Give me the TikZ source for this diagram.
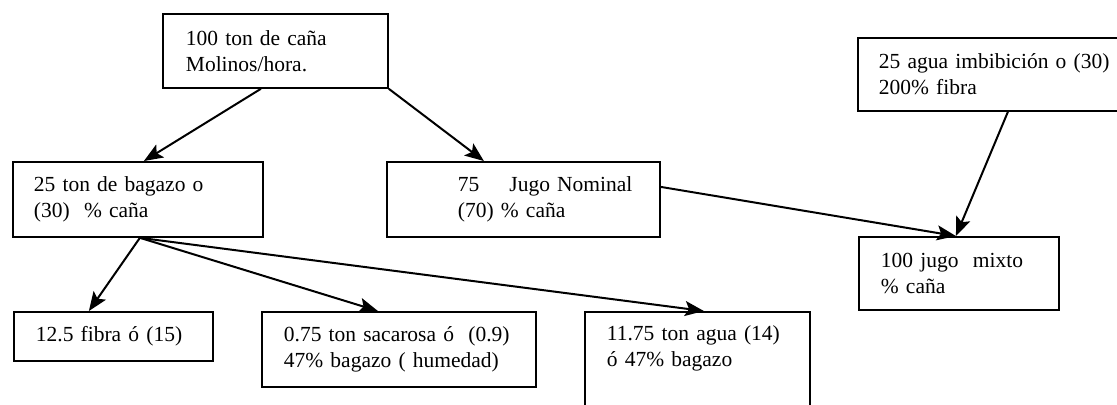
\documentclass[tikz,border=0pt]{standalone}
\usepackage{fontspec}
\setmainfont{Liberation Serif}
\usetikzlibrary{arrows.meta}
\tikzset{caja/.style={draw, line width=0.9pt, anchor=north west, align=left,
  inner ysep=2pt, font=\fontsize{10.75}{13}\selectfont}}

\begin{document}
\begin{tikzpicture}[x=0.5pt, y=-0.5pt, line width=1pt,
  >={Stealth[length=9.5pt,width=7.5pt,inset=2pt]}]
\useasboundingbox (0,0) rectangle (1117,404);
\clip (0,0) rectangle (1117,404);
\node     (cana) at (162,13)  [caja, inner xsep=11.5pt, text width=89.5pt,  minimum height=37pt]   {100 ton de caña\\Molinos/hora.};
\node    (imbib) at (857,37)  [caja, inner xsep=10.5pt, text width=116.5pt, minimum height=36.5pt] {25 agua imbibición o (30)\\200\% fibra};
\node   (bagazo) at (12,161)  [caja, inner xsep=10.5pt, text width=104pt,   minimum height=37.5pt] {25 ton de bagazo o\\(30)\ \ \% caña};
\node  (nominal) at (386,161) [caja, inner xsep=10.5pt, text width=115.5pt, minimum height=37.5pt] {\hspace*{25pt}75\hspace{15pt}Jugo Nominal\\\hspace*{25pt}(70) \% caña};
\node    (mixto) at (858,236) [caja, inner xsep=11pt,   text width=78pt,    minimum height=36.5pt] {100 jugo\ \ mixto\\\% caña};
\node    (fibra) at (13,311)  [caja, inner xsep=11pt,   text width=77.5pt,  minimum height=24.5pt] {12.5 fibra ó (15)};
\node (sacarosa) at (261,311) [caja, inner xsep=11pt,   text width=115pt,   minimum height=37.5pt] {0.75 ton sacarosa ó\ \ (0.9)\\47\% bagazo ( humedad)};
\node     (agua) at (584,311) [caja, inner xsep=11pt,   text width=90.5pt,  inner ysep=7pt, text depth=80pt] {11.75 ton agua (14)\\ó 47\% bagazo};
% flechas
\draw [->] ([xshift=-7.25pt]cana.south) -- ([xshift=3pt]bagazo.north);
\draw [->] (cana.south east) -- ([xshift=-19.75pt]nominal.north);
\draw [->] ([yshift=6.25pt]nominal.east) -- ([xshift=-1.5pt]mixto.north);
\draw [->] ([xshift=6.25pt]imbib.south) -- ([xshift=-1.5pt]mixto.north);
\draw [->] ([xshift=1pt]bagazo.south) -- ([xshift=-12.25pt]fibra.north);
\draw [->] ([xshift=1pt]bagazo.south) -- ([xshift=-10.5pt]sacarosa.north);
\draw [->] ([xshift=1pt]bagazo.south) -- ([xshift=3.25pt]agua.north);
\end{tikzpicture}
\end{document}
